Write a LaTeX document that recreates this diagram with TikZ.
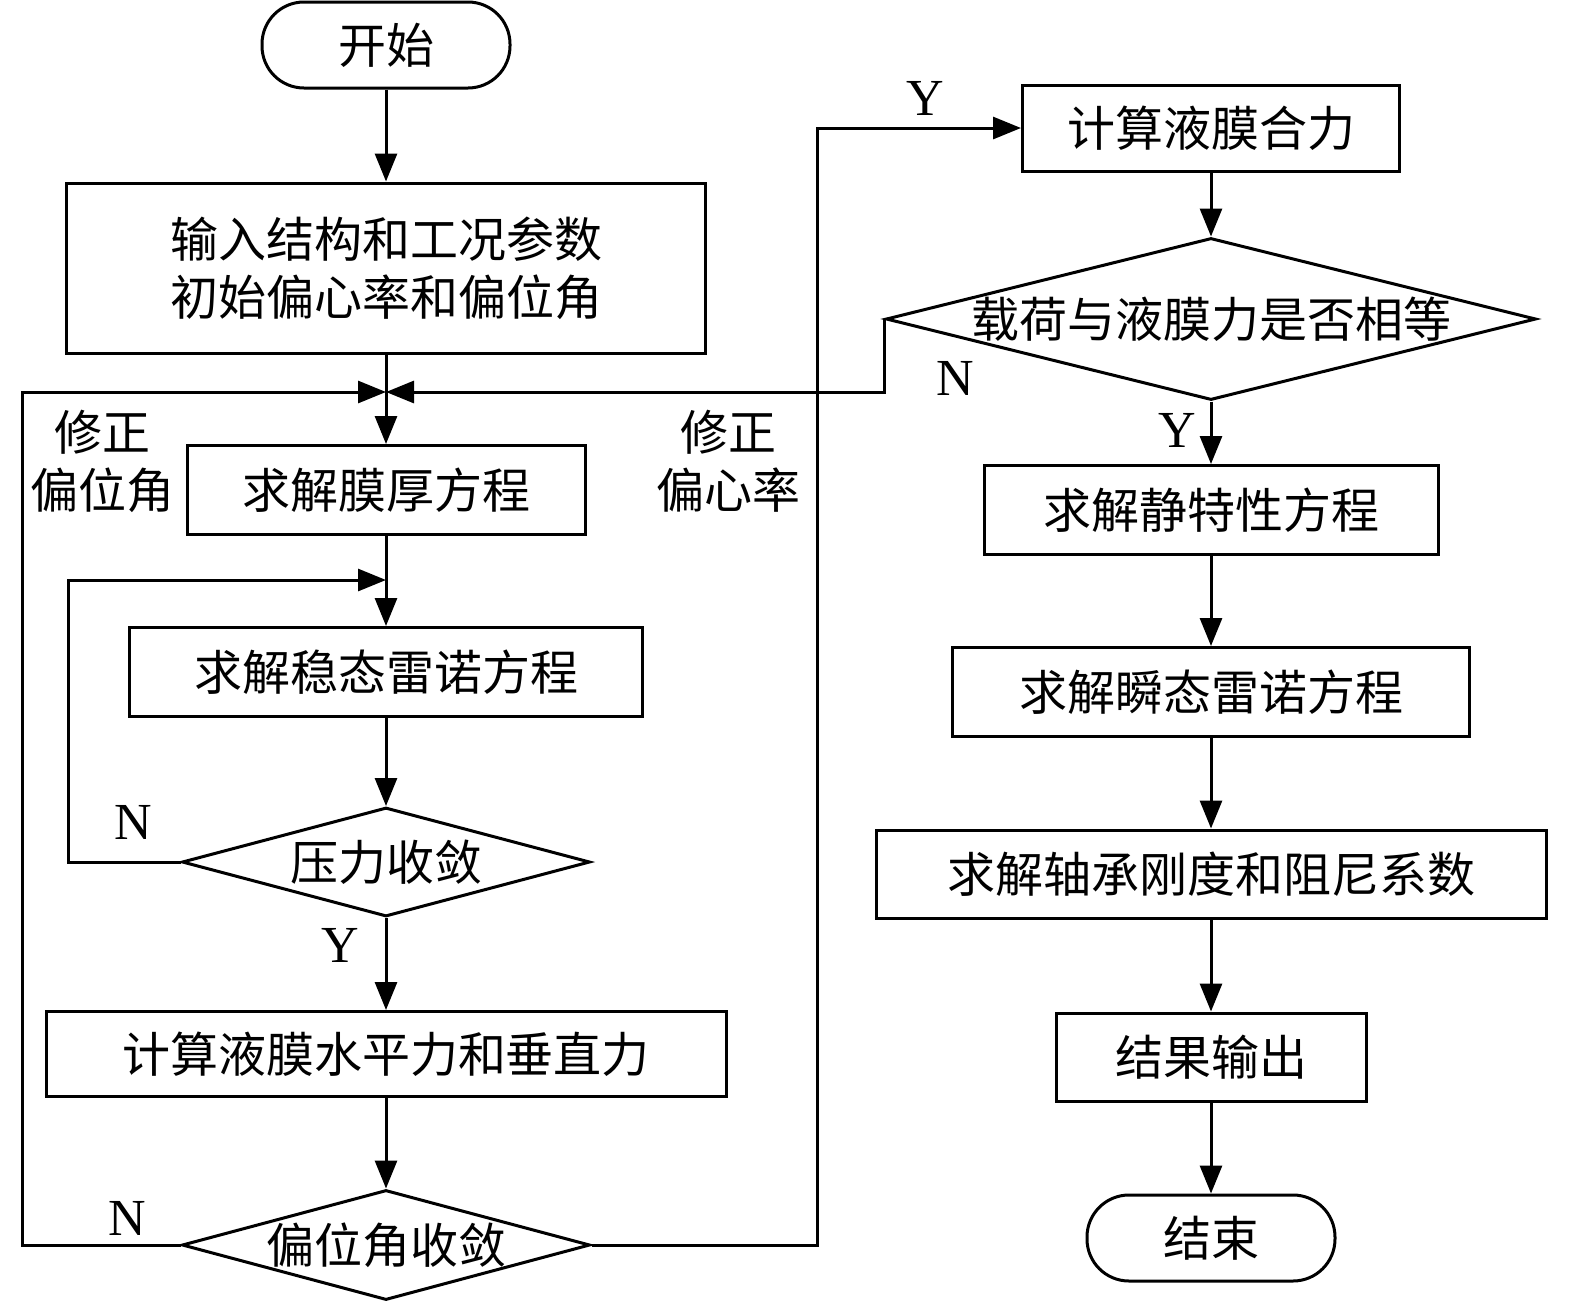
\documentclass[tikz,border=0pt]{standalone}
\usepackage{fontspec}
\setmainfont{Liberation Serif}
\newfontfamily\cjk{Noto Sans CJK SC}
\usetikzlibrary{arrows.meta,shapes.geometric}
\begin{document}
\begin{tikzpicture}[x=0.5pt,y=-0.5pt,
  every path/.style={line width=1.5pt},
  arr/.style={-{Triangle[length=14pt,width=11pt]}},
  box/.style={draw,line width=1.5pt,rectangle,inner sep=0pt,font=\cjk\fontsize{24}{29}\selectfont,align=center},
  term/.style={box,rounded corners=21pt,minimum width=124pt,minimum height=43pt},
  dia/.style={draw,line width=1.5pt,diamond,inner sep=0pt,label={[font=\cjk\fontsize{24}{29}\selectfont]center:#1}},
  yn/.style={font=\fontsize{26}{30}\selectfont,inner sep=0pt},
  note/.style={font=\cjk\fontsize{24}{29}\selectfont,align=center,inner sep=0pt}
]
\useasboundingbox (0,0) rectangle (1575,1308);
% left column
\node[term] (start) at (386,45) {开始};
\node[box,minimum width=319.5pt,minimum height=85pt] (input) at (386,268) {输入结构和工况参数\\初始偏心率和偏位角};
\coordinate (j) at (386,392);
\node[box,minimum width=199pt,minimum height=44.5pt] (film) at (386,490) {求解膜厚方程};
\coordinate (j2) at (386,580);
\node[box,minimum width=256.5pt,minimum height=44.5pt] (steady) at (386,672) {求解稳态雷诺方程};
\node[dia={压力收敛},minimum width=204pt,minimum height=54.5pt] (d1) at (386,862) {};
\node[box,minimum width=340pt,minimum height=42.5pt] (hforce) at (386,1054) {计算液膜水平力和垂直力};
\node[dia={偏位角收敛},minimum width=204pt,minimum height=55pt] (d2) at (386,1245) {};
\coordinate (r) at (817,1245);
\coordinate (l) at (22,1245);
% right column
\node[box,minimum width=188.5pt,minimum height=43pt] (ff) at (1211,128) {计算液膜合力};
\node[dia={载荷与液膜力是否相等},minimum width=325pt,minimum height=81pt] (dl) at (1211,319) {};
\node[box,minimum width=227pt,minimum height=44.5pt] (static) at (1211,510) {求解静特性方程};
\node[box,minimum width=258.5pt,minimum height=44.5pt] (trans) at (1211,692) {求解瞬态雷诺方程};
\node[box,minimum width=335pt,minimum height=44pt] (stiff) at (1211,874) {求解轴承刚度和阻尼系数};
\node[box,minimum width=155pt,minimum height=44pt] (out) at (1211,1057) {结果输出};
\node[term] (end) at (1211,1238) {结束};
% labels
\node[note] (n1) at (103,461) {修正\\偏位角};
\node[note] (n2) at (728,461) {修正\\偏心率};
\node[yn] (ln1) at (133,822) {N};
\node[yn] (ly1) at (340,945) {Y};
\node[yn] (ln2) at (127,1218) {N};
\node[yn] (ly2) at (925,98) {Y};
\node[yn] (ln3) at (955,378) {N};
\node[yn] (ly3) at (1177,430) {Y};
% connectors
\draw[arr] (start) -- (input);
\draw[arr] (input) -- (film);
\draw[arr] (film) -- (steady);
\draw[arr] (steady) -- (d1);
\draw[arr] (d1) -- (hforce);
\draw[arr] (hforce) -- (d2);
\draw[arr] (d1.west) -- ++(-112,0) |- (j2);
\draw[arr] (d2.west) -- (l) |- (j);
\draw[arr] (dl.west) |- (j);
\draw[arr] (d2.east) -- (r) |- (ff.west);
\draw[arr] (ff) -- (dl);
\draw[arr] (dl) -- (static);
\draw[arr] (static) -- (trans);
\draw[arr] (trans) -- (stiff);
\draw[arr] (stiff) -- (out);
\draw[arr] (out) -- (end);
\end{tikzpicture}
\end{document}
